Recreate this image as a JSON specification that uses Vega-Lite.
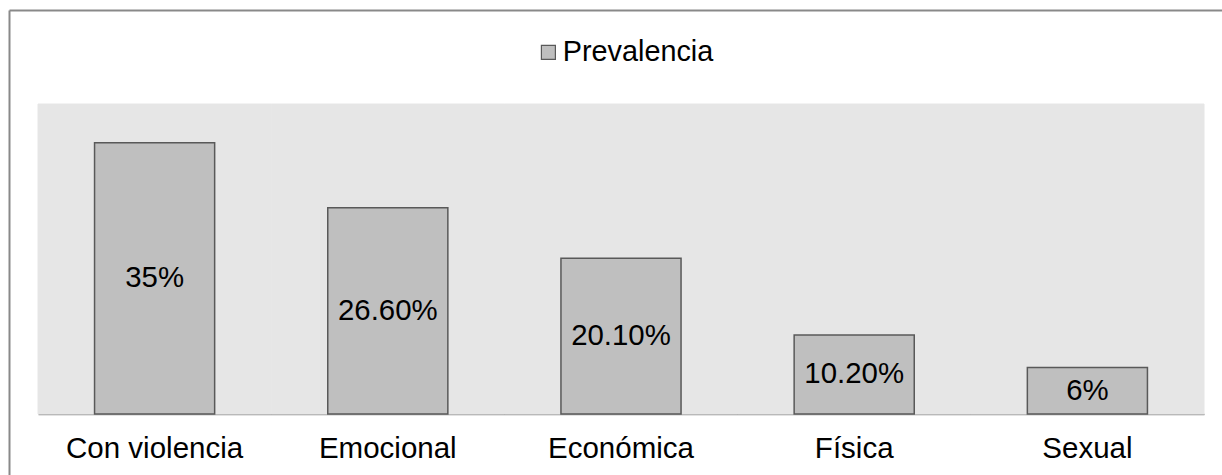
{
  "$schema": "https://vega.github.io/schema/vega-lite/v6.json",
  "autosize": {"type": "none"},
  "width": 1213,
  "height": 465,
  "padding": {"left": 9, "top": 10, "right": 0, "bottom": 0},
  "background": "white",
  "config": {
    "view": {"stroke": null, "fill": "white"},
    "font": "Liberation Sans"
  },
  "data": {
    "values": [
      {"categoria": "Con violencia", "valor": 35, "etiqueta": "35%"},
      {"categoria": "Emocional", "valor": 26.6, "etiqueta": "26.60%"},
      {"categoria": "Económica", "valor": 20.1, "etiqueta": "20.10%"},
      {"categoria": "Física", "valor": 10.2, "etiqueta": "10.20%"},
      {"categoria": "Sexual", "valor": 6, "etiqueta": "6%"}
    ]
  },
  "resolve": {"scale": {"x": "independent", "y": "independent"}, "axis": {"x": "independent", "y": "independent"}},
  "layer": [
    {
      "mark": {"type": "point", "opacity": 0},
      "encoding": {
        "x": {"field": "categoria", "type": "nominal", "sort": null,
              "axis": {"orient": "top", "title": null, "labels": false, "ticks": false,
                       "domainColor": "#898989", "domainWidth": 2}},
        "y": {"field": "valor", "type": "quantitative",
              "axis": {"orient": "left", "title": null, "labels": false, "ticks": false, "grid": false,
                       "domainColor": "#898989", "domainWidth": 2}}
      }
    },
    {
      "mark": {"type": "bar", "fill": "#e6e6e6", "stroke": "#e6e6e6", "strokeWidth": 1},
      "encoding": {
        "x": {"field": "categoria", "type": "nominal", "sort": null,
              "scale": {"type": "band", "range": [29, 1195], "paddingInner": 0, "paddingOuter": 0},
              "axis": {"title": null, "labelAngle": 0, "labelFontSize": 29.5, "labelColor": "#000000",
                       "labelFont": "Liberation Sans", "ticks": false, "tickSize": 0,
                       "labelPadding": 20, "domainColor": "#8c8c8c", "domainWidth": 1.5,
                       "offset": -61}},
        "y": {"datum": 40, "type": "quantitative",
              "scale": {"domain": [0, 40], "range": [404, 94], "nice": false}, "axis": null}
      }
    },
    {
      "mark": {"type": "bar", "stroke": "#595959", "strokeWidth": 1.5},
      "encoding": {
        "x": {"field": "categoria", "type": "nominal", "sort": null,
              "scale": {"type": "band", "range": [29, 1195], "paddingInner": 0.485, "paddingOuter": 0.2425},
              "axis": null},
        "y": {"field": "valor", "type": "quantitative",
              "scale": {"domain": [0, 40], "range": [404, 94], "nice": false}, "axis": null},
        "color": {"datum": "Prevalencia", "type": "nominal",
                  "scale": {"range": ["#bfbfbf"]},
                  "legend": {"title": null, "orient": "none", "legendX": 525, "legendY": 28,
                             "symbolType": "square", "symbolSize": 196, "symbolStrokeColor": "#595959",
                             "symbolStrokeWidth": 1.2, "labelFontSize": 28.8, "labelColor": "#000000",
                             "labelFont": "Liberation Sans", "labelOffset": 0, "padding": 0}}
      }
    },
    {
      "mark": {"type": "text", "fontSize": 29.4, "color": "#000000", "baseline": "middle", "align": "center"},
      "encoding": {
        "x": {"field": "categoria", "type": "nominal", "sort": null,
              "scale": {"type": "band", "range": [29, 1195], "paddingInner": 0.485, "paddingOuter": 0.2425},
              "axis": null},
        "y": {"field": "valor", "type": "quantitative",
              "scale": {"domain": [0, 80], "range": [404, 94], "nice": false}, "axis": null},
        "text": {"field": "etiqueta"}
      }
    }
  ]
}
